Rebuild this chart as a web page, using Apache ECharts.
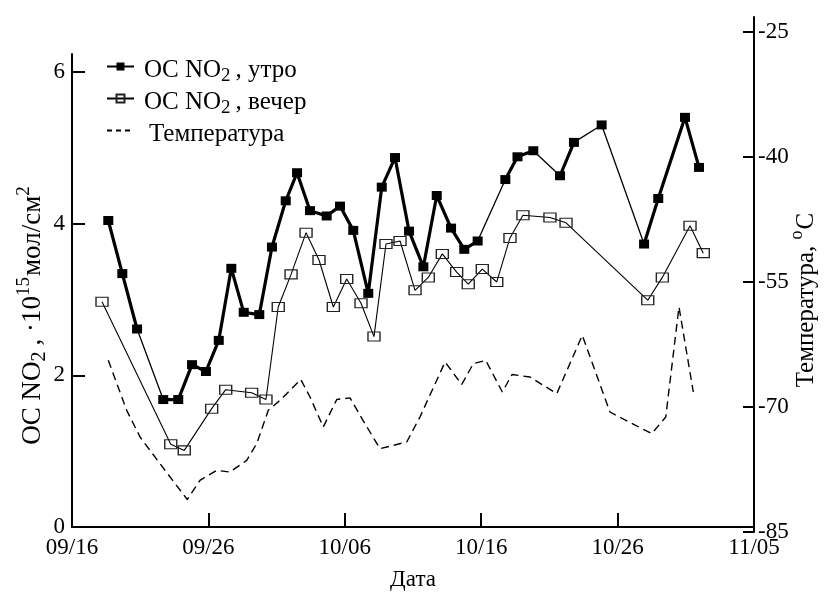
<!DOCTYPE html>
<html>
<head>
<meta charset="utf-8">
<script src="https://cdn.jsdelivr.net/npm/echarts@6/dist/echarts.min.js"></script>
<style>
  html, body { margin: 0; padding: 0; background: #fff; }
  #chart { width: 825px; height: 596px; }
</style>
</head>
<body>
<div id="chart"></div>
<script>
// x values are days counted from 09/16
const tickDays = [0, 10, 20, 30, 40, 50];
const tickLabels = ['09/16', '09/26', '10/06', '10/16', '10/26', '11/05'];

// NO2 total column, 10^15 molecules/cm^2 — morning observations
const morningDay = [2.66, 3.69, 4.77, 6.69, 7.79, 8.80, 9.82, 10.76, 11.68, 12.59,
  13.73, 14.66, 15.67, 16.5, 17.45, 18.67, 19.65, 20.62, 21.72, 22.71,
  23.68, 24.71, 25.76, 26.74, 27.79, 28.76, 29.74, 31.77, 32.66, 33.82,
  35.78, 36.80, 38.83, 41.94, 42.98, 44.94, 45.97];
const morningNO2 = [4.04, 3.34, 2.61, 1.68, 1.68, 2.14, 2.05, 2.46, 3.41, 2.83,
  2.80, 3.69, 4.30, 4.67, 4.17, 4.10, 4.23, 3.91, 3.08, 4.48,
  4.87, 3.90, 3.43, 4.37, 3.94, 3.66, 3.77, 4.58, 4.88, 4.96,
  4.63, 5.07, 5.30, 3.73, 4.33, 5.40, 4.74];
// index ranges (inclusive) of uninterrupted morning series, joined by a heavy line
const morningRuns = [[0, 2], [3, 26], [27, 29], [30, 31], [33, 36]];

// evening observations
const eveningDay = [2.20, 7.24, 8.23, 10.24, 11.27, 13.17, 14.22, 15.12, 16.06, 17.16,
  18.11, 19.16, 20.14, 21.19, 22.14, 23.02, 24.05, 25.15, 26.12, 27.15,
  28.20, 29.05, 30.08, 31.14, 32.11, 33.06, 35.04, 36.22, 42.21, 43.28,
  45.31, 46.28];
const eveningNO2 = [2.97, 1.09, 1.01, 1.56, 1.81, 1.77, 1.68, 2.90, 3.33, 3.88,
  3.52, 2.90, 3.27, 2.95, 2.51, 3.73, 3.77, 3.12, 3.29, 3.60,
  3.36, 3.20, 3.40, 3.23, 3.81, 4.11, 4.08, 4.01, 2.99, 3.29,
  3.97, 3.61];

// temperature, deg C (right axis)
const tempDay = [2.66, 4.01, 4.99, 6.45, 8.45, 9.38, 10.61, 11.58, 12.81, 13.54,
  14.39, 15.25, 16.77, 17.45, 18.42, 19.41, 20.38, 21.33, 22.58, 24.54,
  25.51, 27.35, 28.57, 29.42, 30.33, 31.55, 32.26, 33.58, 35.54, 37.41,
  39.44, 42.5, 43.53, 44.5, 45.55];
const tempC = [-64.4, -70.4, -73.6, -76.8, -81.1, -78.8, -77.6, -77.8, -76.4, -74.4,
  -70.4, -69.2, -66.7, -68.8, -72.4, -69.1, -68.9, -71.6, -75.0, -74.2,
  -71.2, -64.6, -67.3, -64.8, -64.4, -68.2, -66.1, -66.4, -68.4, -61.4,
  -70.6, -73.2, -71.2, -58.0, -68.2];

const leftTicks = [0, 2, 4, 6];
const rightTicks = [-85, -70, -55, -40, -25];

const FONT = '"Liberation Serif", "Times New Roman", serif';
const BLACK = '#000';

const pairs = (xs, ys) => xs.map((x, i) => [x, ys[i]]);

// heavy-line segments: one polyline per run, separated by empty values
function runSegments(xs, ys, runs) {
  const out = [];
  runs.forEach(([a, b], k) => {
    if (k > 0) out.push([(xs[a] + xs[a - 1]) / 2, '-']);
    for (let i = a; i <= b; i++) out.push([xs[i], ys[i]]);
  });
  return out;
}

const richText = {
  a: { fontFamily: FONT, fontSize: 25, color: BLACK, lineHeight: 25, verticalAlign: 'top', padding: [4, 0, 1, 5] },
  t: { fontFamily: FONT, fontSize: 25, color: BLACK, lineHeight: 25, verticalAlign: 'top', padding: [4, 0, 1, 0] },
  s: { fontFamily: FONT, fontSize: 19, color: BLACK, lineHeight: 19, verticalAlign: 'top', padding: [13, 5, 0, 0] },
  p: { fontFamily: FONT, fontSize: 25, color: BLACK, lineHeight: 25, verticalAlign: 'top', padding: [4, 0, 1, 10] },
  // axis titles
  T: { fontFamily: FONT, fontSize: 27, color: BLACK, lineHeight: 27, verticalAlign: 'top', padding: [5, 0, 1, 0] },
  S: { fontFamily: FONT, fontSize: 20, color: BLACK, lineHeight: 20, verticalAlign: 'top', padding: [15, 6, 0, 0] },
  U: { fontFamily: FONT, fontSize: 19, color: BLACK, lineHeight: 19, verticalAlign: 'top', padding: [0, 1, 0, 0] },
  R: { fontFamily: FONT, fontSize: 25, color: BLACK, lineHeight: 25, verticalAlign: 'top', padding: [5, 0, 1, 0] },
  D: { fontFamily: FONT, fontSize: 18, color: BLACK, lineHeight: 18, verticalAlign: 'top', padding: [0, 1, 0, 0] }
};

const legendText = {
  'утро': '{a|OC NO}{s|2}{t|, утро}',
  'вечер': '{a|OC NO}{s|2}{t|, вечер}',
  'Температура': '{p|Температура}'
};

const chart = echarts.init(document.getElementById('chart'), null, { renderer: 'canvas' });

const axisLineStyle = { color: BLACK, width: 2 };

chart.setOption({
  animation: false,
  backgroundColor: '#fff',
  textStyle: { fontFamily: FONT },
  grid: [
    { left: 72, right: 71, top: 54, bottom: 64 },
    { left: 72, right: 71, top: 17, bottom: 64 }
  ],
  xAxis: [
    {
      gridIndex: 0, type: 'value', min: 0, max: 50, interval: 10,
      axisLine: { onZero: false, lineStyle: axisLineStyle },
      axisTick: { inside: true, length: 14, lineStyle: axisLineStyle },
      axisLabel: {
        color: BLACK, fontFamily: FONT, fontSize: 23, margin: 9,
        showMinLabel: true, showMaxLabel: true,
        formatter: v => tickLabels[tickDays.indexOf(v)] || ''
      },
      splitLine: { show: false },
      name: 'Дата', nameLocation: 'middle', nameGap: 41,
      nameTextStyle: { color: BLACK, fontFamily: FONT, fontSize: 23 }
    },
    { gridIndex: 1, type: 'value', min: 0, max: 50, show: false }
  ],
  yAxis: [
    {
      gridIndex: 0, type: 'value', min: 0, max: 6.235, position: 'left',
      axisLine: { show: true, onZero: false, lineStyle: axisLineStyle },
      axisTick: { show: true, inside: true, length: 13, customValues: leftTicks, lineStyle: axisLineStyle },
      axisLabel: { customValues: leftTicks, color: BLACK, fontFamily: FONT, fontSize: 23, margin: 7 },
      splitLine: { show: false }
    },
    {
      gridIndex: 1, type: 'value', min: -85, max: -23.2, position: 'right',
      axisLine: { show: true, onZero: false, lineStyle: axisLineStyle },
      axisTick: { show: true, inside: true, length: 11, customValues: rightTicks, lineStyle: axisLineStyle },
      axisLabel: { customValues: rightTicks, color: BLACK, fontFamily: FONT, fontSize: 23, margin: 4 },
      splitLine: { show: false }
    }
  ],
  legend: {
    orient: 'vertical', left: 106, top: 54, itemGap: 0, padding: 0,
    itemWidth: 27, itemHeight: 10,
    data: [
      { name: 'утро' },
      { name: 'вечер' },
      { name: 'Температура', itemStyle: { color: 'rgba(0,0,0,0)', borderWidth: 0 }, lineStyle: { type: [5, 4] } }
    ],
    formatter: name => legendText[name],
    textStyle: { color: BLACK, fontFamily: FONT, fontSize: 25, rich: richText },
    selectedMode: false
  },
  graphic: [
    {
      type: 'text', x: 28, y: 315, rotation: Math.PI / 2,
      style: {
        text: '{T|OC NO}{S|2}{T|, ·10}{U|15}{T|мол/см}{U|2}',
        rich: richText, align: 'center', verticalAlign: 'middle', fill: BLACK
      }
    },
    {
      type: 'text', x: 801, y: 300, rotation: Math.PI / 2,
      style: {
        text: '{R|Температура, }{D|o}{R|C}',
        rich: richText, align: 'center', verticalAlign: 'middle', fill: BLACK
      }
    }
  ],
  series: [
    {
      name: 'Температура', type: 'line', xAxisIndex: 1, yAxisIndex: 1,
      data: pairs(tempDay, tempC), showSymbol: false, symbol: 'none',
      lineStyle: { color: BLACK, width: 1.4, type: [8, 5] }, itemStyle: { color: BLACK },
      z: 1
    },
    {
      name: 'вечер', type: 'line', data: pairs(eveningDay, eveningNO2),
      symbol: 'rect', symbolSize: [12, 9],
      lineStyle: { color: BLACK, width: 1.1 },
      itemStyle: { color: 'rgba(255,255,255,0)', borderColor: '#222', borderWidth: 1.2 },
      z: 2
    },
    {
      name: 'утро-bold', type: 'line', data: runSegments(morningDay, morningNO2, morningRuns),
      showSymbol: false, symbol: 'none', connectNulls: false,
      lineStyle: { color: BLACK, width: 3.2 },
      z: 3
    },
    {
      name: 'утро', type: 'line', data: pairs(morningDay, morningNO2),
      symbol: 'rect', symbolSize: [10, 9],
      lineStyle: { color: BLACK, width: 1.3 },
      itemStyle: { color: BLACK },
      z: 4
    }
  ]
});
</script>
</body>
</html>
